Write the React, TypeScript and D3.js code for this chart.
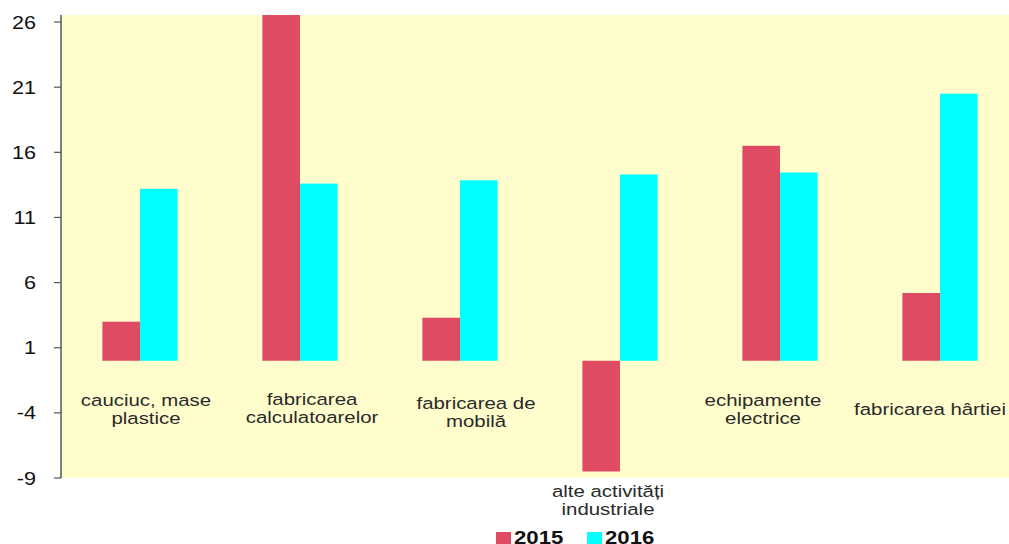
import React from "react";
import * as d3 from "d3";

const categoryLines: string[][] = [
  ["cauciuc, mase", "plastice"],
  ["fabricarea", "calculatoarelor"],
  ["fabricarea de", "mobilă"],
  ["alte activități", "industriale"],
  ["echipamente", "electrice"],
  ["fabricarea hârtiei"],
];
const categories = categoryLines.map((l) => l.join(" "));
const series = ["2015", "2016"];
const values2015 = [3.0, 28.0, 3.3, -8.5, 16.5, 5.2];
const values2016 = [13.2, 13.6, 13.85, 14.3, 14.45, 20.5];
const yTicks = [-9, -4, 1, 6, 11, 16, 21, 26];

// layout: small label nudges (px) as placed in the original chart
const labelNudgeX = [6, 12, 16, -12, -17, -10];
const labelNudgeY = [0, -1, 3, 0, 0, 0];

const W = 1009;
const H = 544;
const plot = { left: 61, right: 1020, top: 15, bottom: 478 };
const colors = ["#DF4B63", "#00FFFF"];
const FONT = "'Liberation Sans', Arial, sans-serif";
const SX = 1.2;

export default function App() {
  const y = d3.scaleLinear().domain([-9, 26.54]).range([plot.bottom, plot.top]);
  const x0 = d3
    .scaleBand<string>()
    .domain(categories)
    .range([plot.left - 1, plot.right])
    .paddingInner(0.53)
    .paddingOuter(0.265);
  const x1 = d3.scaleBand<string>().domain(series).range([0, x0.bandwidth()]);
  const data = [values2015, values2016];

  return (
    <svg
      width={W}
      height={H}
      style={{ position: "absolute", left: 0, top: 0, background: "#ffffff" }}
      fontFamily={FONT}
    >
      <defs>
        <clipPath id="pc">
          <rect x={plot.left} y={plot.top} width={plot.right - plot.left} height={plot.bottom - plot.top} />
        </clipPath>
      </defs>
      <rect
        x={plot.left}
        y={plot.top}
        width={plot.right - plot.left}
        height={plot.bottom - plot.top}
        fill="#FFFDCC"
      />
      <g clipPath="url(#pc)">
        {categories.map((c, i) =>
          series.map((s, j) => {
            const v = data[j][i];
            const y0 = y(0);
            const yv = y(v);
            return (
              <rect
                key={c + s}
                x={(x0(c) as number) + (x1(s) as number)}
                y={Math.min(y0, yv)}
                width={x1.bandwidth()}
                height={Math.abs(yv - y0)}
                fill={colors[j]}
              />
            );
          })
        )}
      </g>
      {/* y axis */}
      <line x1={plot.left} x2={plot.left} y1={plot.top} y2={plot.bottom} stroke="#555" strokeWidth={1.5} />
      {yTicks.map((t) => (
        <g key={t}>
          <line x1={plot.left - 7} x2={plot.left} y1={y(t)} y2={y(t)} stroke="#555" strokeWidth={1.2} />
          <text
            transform={`translate(36,${y(t) + 6.5}) scale(${SX},1)`}
            textAnchor="end"
            fontSize={18}
            fill="#111"
          >
            {t}
          </text>
        </g>
      ))}
      {/* category labels */}
      {categoryLines.map((lines, i) => {
        const c = categories[i];
        const cx = (x0(c) as number) + x0.bandwidth() / 2 + labelNudgeX[i];
        const neg = data.some((d) => d[i] < 0);
        const startY = (neg ? 497 : lines.length === 1 ? 415 : 406) + labelNudgeY[i];
        return (
          <g key={c}>
            {lines.map((ln, k) => (
              <text
                key={k}
                transform={`translate(${cx},${startY + k * 18}) scale(${SX},1)`}
                textAnchor="middle"
                fontSize={17}
                fill="#2a2a2a"
              >
                {ln}
              </text>
            ))}
          </g>
        );
      })}
      {/* legend */}
      {series.map((s, j) => {
        const lx = 496 + j * 91;
        return (
          <g key={s}>
            <rect x={lx} y={532} width={15} height={15} fill={colors[j]} />
            <text
              transform={`translate(${lx + 18},543.5) scale(${SX},1)`}
              fontSize={18.5}
              fontWeight="bold"
              fill="#111"
            >
              {s}
            </text>
          </g>
        );
      })}
    </svg>
  );
}
